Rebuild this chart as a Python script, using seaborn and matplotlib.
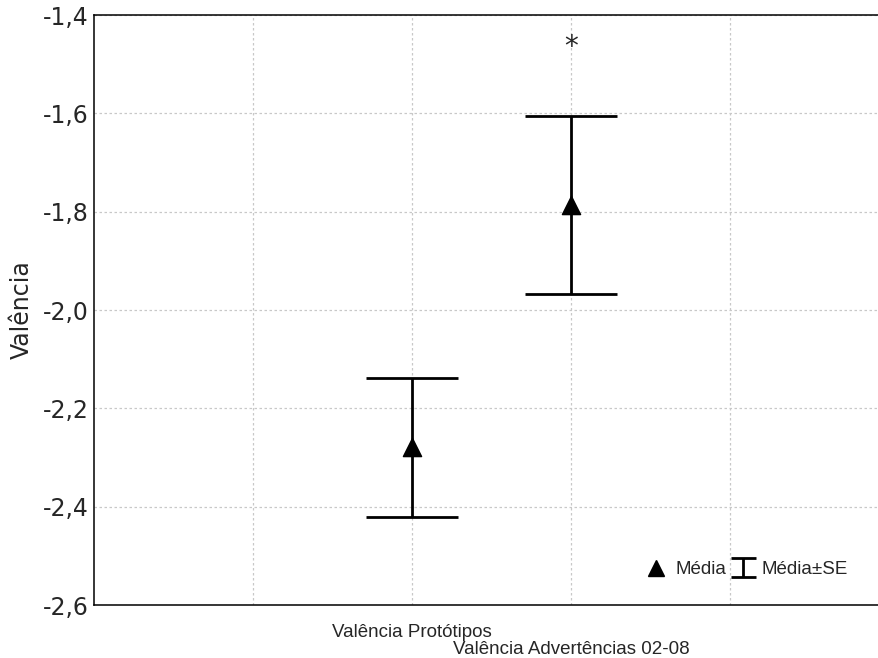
import numpy as np
import pandas as pd
import matplotlib
matplotlib.use("Agg")
import matplotlib.pyplot as plt
import seaborn as sns
from matplotlib.lines import Line2D

# dados
categorias = ["Valência Protótipos", "Valência Advertências 02-08"]
posicoes = [2, 3]
medias = [-2.279, -1.787]
erro_padrao = [0.141, 0.181]
asterisco_y = -1.465

df = pd.DataFrame({"x": posicoes, "media": medias, "se": erro_padrao, "cat": categorias})

sns.set_style("white")
plt.rcParams["font.family"] = ["Liberation Sans", "DejaVu Sans"]

fig = plt.figure(figsize=(8.79, 6.58), dpi=100)
ax = fig.add_axes([0.107, 0.0805, 0.904, 0.8965])

ax.errorbar(df["x"], df["media"], yerr=df["se"], fmt="none", ecolor="black",
            elinewidth=2, capsize=33, capthick=2, zorder=3)
sns.scatterplot(data=df, x="x", y="media", marker="^", s=170, color="black",
                edgecolor="black", ax=ax, zorder=4, legend=False)

ax.text(3, asterisco_y, "*", ha="center", va="center", fontsize=20,
        family="DejaVu Sans")

ax.set_xlim(0, 5)
ax.set_ylim(-2.6, -1.4)
ax.set_yticks(np.arange(-2.6, -1.39, 0.2))
ax.set_yticklabels([f"{v:.1f}".replace(".", ",") for v in np.arange(-2.6, -1.39, 0.2)],
                   fontsize=17, family="DejaVu Sans")
ax.set_xticks([1, 2, 3, 4])
ax.set_xticklabels(["", categorias[0], categorias[1], ""], fontsize=13.5)
ax.set_xlabel("")
ax.set_ylabel("Valência", fontsize=17, family="DejaVu Sans", labelpad=6)

ax.grid(True, color="#c8c8c8", linestyle=(0, (2, 2)), linewidth=0.9)
ax.tick_params(direction="in", length=3, color="#555555", pad=4)
ax.tick_params(axis="x", pad=14)
ax.xaxis.get_major_ticks()[2].set_pad(26)
for s in ax.spines.values():
    s.set_color("black")
    s.set_linewidth(1.1)
ax.spines["right"].set_visible(False)

# legenda
eb = ax.errorbar([np.nan], [np.nan], yerr=[1], fmt="none", ecolor="black",
                 elinewidth=2, capsize=9, capthick=2)
h1 = Line2D([], [], marker="^", color="black", linestyle="none", markersize=12)
ax.legend([h1, eb], ["Média", "Média±SE"], loc="lower right", ncol=2,
          frameon=False, fontsize=13.5, handlelength=1.2, handleheight=0.4,
          handletextpad=0.4, columnspacing=0.3, bbox_to_anchor=(0.97, 0.018))

fig.savefig("out.png", dpi=100)
